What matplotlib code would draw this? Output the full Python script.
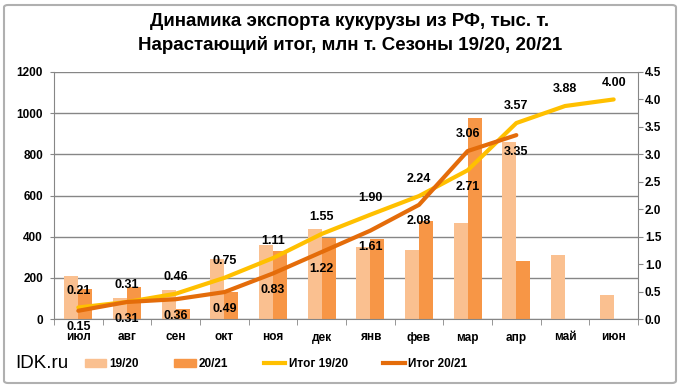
import matplotlib.pyplot as plt
import numpy as np
from matplotlib.patches import Patch, FancyBboxPatch
from matplotlib.lines import Line2D

plt.rcParams['font.family'] = ['Liberation Sans', 'DejaVu Sans']

months = ['июл', 'авг', 'сен', 'окт', 'ноя', 'дек', 'янв', 'фев', 'мар', 'апр', 'май', 'июн']
exp_1920 = [210, 103, 143, 292, 360, 436, 349, 336, 465, 861, 312, 118]
exp_2021 = [147, 157, 51, 129, 330, 392, 388, 475, 976, 283]
cum_1920 = [0.21, 0.31, 0.46, 0.75, 1.11, 1.55, 1.90, 2.24, 2.71, 3.57, 3.88, 4.00]
cum_2021 = [0.15, 0.31, 0.36, 0.49, 0.83, 1.22, 1.61, 2.08, 3.06, 3.35]
# label above (+1) or below (-1) the line point
pos_1920 = [1, 1, 1, 1, 1, 1, 1, 1, -1, 1, 1, 1]
pos_2021 = [-1, -1, -1, -1, -1, -1, -1, -1, 1, -1]

c_light = '#FAC090'
c_dark = '#F79646'
c_yellow = '#FFC000'
c_orange = '#E46C0A'
gray = '#868686'

W, H = 682, 389
fig = plt.figure(figsize=(W / 100, H / 100), dpi=100)
ax = fig.add_axes([54 / W, 1 - 319 / H, (638 - 54) / W, (319 - 72) / H])
ax2 = ax.twinx()

x = np.arange(len(months))
bw = 0.285
ax.bar(x[:len(exp_1920)] - bw / 2, exp_1920, bw, color=c_light, zorder=2)
ax.bar(x[:len(exp_2021)] + bw / 2, exp_2021, bw, color=c_dark, zorder=2)

ax.set_xlim(-0.5, len(months) - 0.5)
ax.set_ylim(0, 1200)
ax.set_yticks(range(0, 1201, 200))
ax.yaxis.grid(True, color=gray, linewidth=1, zorder=0)
ax.set_axisbelow(True)
ax.set_xticks(x)
ax.set_xticklabels(months)
ax.set_xticks(np.arange(-0.5, len(months), 1), minor=True)
ax.tick_params(axis='x', which='major', length=0, pad=9)
ax.tick_params(axis='x', which='minor', length=4, color=gray)
ax.tick_params(axis='y', length=3, color=gray, pad=5)
for t in ax.get_xticklabels() + ax.get_yticklabels():
    t.set_fontsize(8.5)
    t.set_fontweight('bold')

ax2.plot(x[:len(cum_1920)], cum_1920, color=c_yellow, lw=3, solid_capstyle='round', zorder=3)
ax2.plot(x[:len(cum_2021)], cum_2021, color=c_orange, lw=3, solid_capstyle='round', zorder=3)
ax2.set_ylim(0, 4.5)
ax2.set_yticks(np.arange(0, 4.51, 0.5))
ax2.set_yticklabels(['%.1f' % v for v in np.arange(0, 4.51, 0.5)])
ax2.tick_params(axis='y', length=3.5, color=gray, pad=1.5)
for t in ax2.get_yticklabels():
    t.set_fontsize(8.5)
    t.set_fontweight('bold')

for a in (ax, ax2):
    for s in a.spines.values():
        s.set_visible(False)
ax.spines['left'].set_visible(True)
ax.spines['left'].set_color(gray)
ax.spines['bottom'].set_visible(True)
ax.spines['bottom'].set_color(gray)
ax2.spines['right'].set_visible(True)
ax2.spines['right'].set_color(gray)

for xi, v, p in zip(x, cum_1920, pos_1920):
    ax2.annotate('%.2f' % v, (xi, v), xytext=(0, 12 * p), textcoords='offset points',
                 ha='center', va='center', fontsize=9, fontweight='bold', zorder=5)
for xi, v, p in zip(x, cum_2021, pos_2021):
    ax2.annotate('%.2f' % v, (xi, v), xytext=(0, 12 * p), textcoords='offset points',
                 ha='center', va='center', fontsize=9, fontweight='bold', zorder=5)

fig.text(350 / W, 1 - 22 / H, 'Динамика экспорта кукурузы из РФ, тыс. т.', ha='center', va='center',
         fontsize=13.5, fontweight='bold')
fig.text(350 / W, 1 - 45 / H, 'Нарастающий итог, млн т. Сезоны 19/20, 20/21', ha='center', va='center',
         fontsize=13.5, fontweight='bold')
fig.text(15 / W, 1 - 364 / H, 'IDK.ru', ha='left', va='center', fontsize=13.5)

handles = [Patch(color=c_light), Patch(color=c_dark),
           Line2D([], [], color=c_yellow, lw=3), Line2D([], [], color=c_orange, lw=3)]
labels = ['19/20', '20/21', 'Итог 19/20', 'Итог 20/21']
fig.legend(handles, labels, ncol=4, loc='center left', bbox_to_anchor=(74 / W, 1 - 364 / H),
           frameon=False, handlelength=1.8, handleheight=0.6, handletextpad=0.3, columnspacing=3.0,
           prop={'size': 8.5, 'weight': 'bold'})

fig.patches.append(FancyBboxPatch((4 / W, 6 / H), 672 / W, 378 / H, boxstyle='round,pad=0,rounding_size=0.006',
                                  transform=fig.transFigure, fill=False, edgecolor='#B0B0B0', lw=1.5))

fig.savefig('out.png', dpi=100)
